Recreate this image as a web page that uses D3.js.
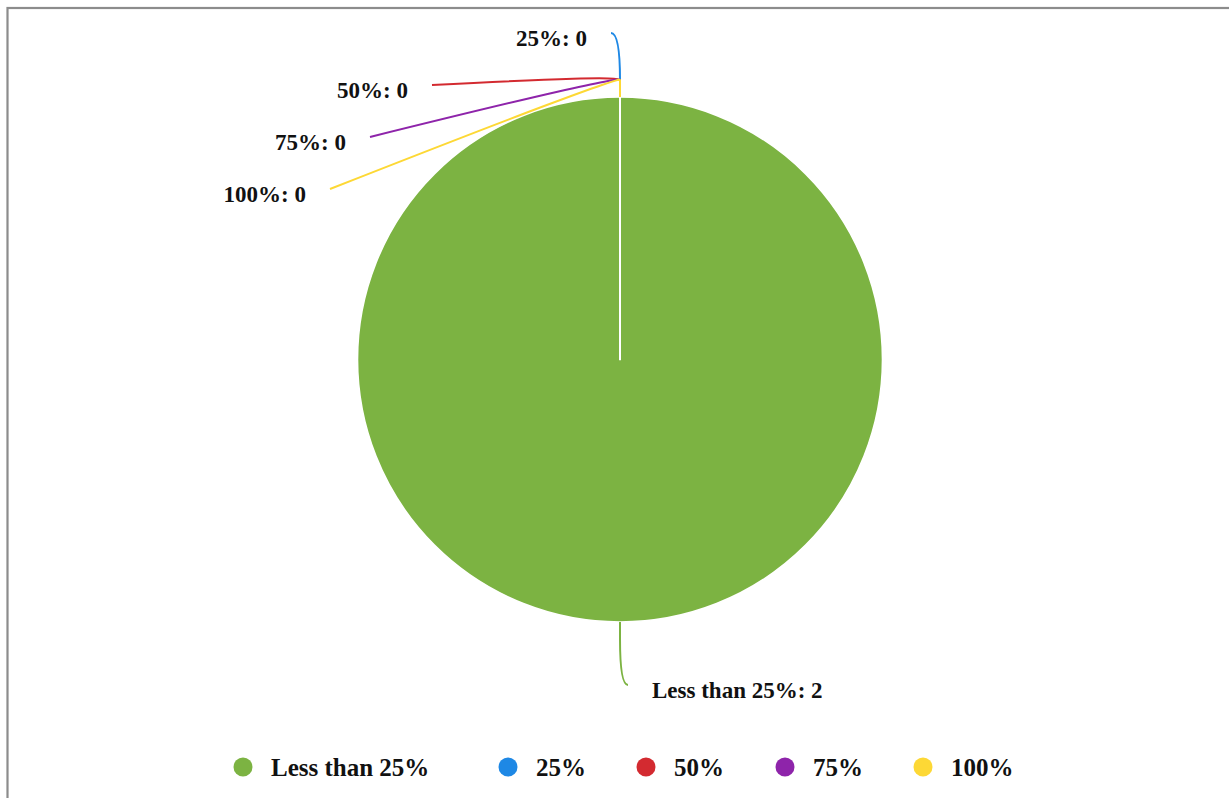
<!DOCTYPE html>
<html>
<head>
<meta charset="utf-8">
<script src="https://cdn.jsdelivr.net/npm/d3@7"></script>
<style>
  html, body { margin: 0; padding: 0; background: #fff; }
  svg { display: block; }
  text { font-family: "Liberation Serif", "Times New Roman", serif; font-weight: bold; fill: #111; }
</style>
</head>
<body>
<svg id="chart" width="1229" height="798"></svg>
<script>
// Share of completion per category
const categories = ["Less than 25%", "25%", "50%", "75%", "100%"];
const values = [2, 0, 0, 0, 0];
const colors = ["#7cb342", "#1e88e5", "#d32a30", "#8e24aa", "#fdd835"];

// Where each outside label line ends, relative to its elbow point (label layout)
const labelOffsets = [[8, 46], [-9, -47], [-188, 5], [-250, 57], [-290, 109]];
// Legend marker positions
const legendXs = [243, 508, 646, 785, 923];

const W = 1229, H = 798;
const cx = 620, cy = 359.5, R = 262.5, elbowLen = 17;

const svg = d3.select("#chart");

// frame
svg.append("rect")
  .attr("x", 7.5).attr("y", 8)
  .attr("width", W + 20).attr("height", H + 20)
  .attr("fill", "none").attr("stroke", "#8c8c8c").attr("stroke-width", 2.2);

const data = categories.map((c, i) => ({ name: c, value: values[i], color: colors[i], off: labelOffsets[i] }));

const pie = d3.pie().value(d => d.value).sort(null);
const arcs = pie(data);
const arc = d3.arc().innerRadius(0).outerRadius(R);

const g = svg.append("g").attr("transform", `translate(${cx},${cy})`);

g.selectAll("path.slice")
  .data(arcs)
  .join("path")
  .attr("class", "slice")
  .attr("d", arc)
  .attr("fill", d => d.data.color)
  .attr("stroke", "#fff")
  .attr("stroke-width", 1.6)
  .attr("stroke-linejoin", "round");

// label lines: pie edge -> elbow, then a smooth bend to the label end
function pt(angle, rad) { return [Math.sin(angle) * rad, -Math.cos(angle) * rad]; }

const labelData = arcs.map(a => {
  const mid = (a.startAngle + a.endAngle) / 2;
  const dir = [Math.sin(mid), -Math.cos(mid)];
  const p0 = pt(mid, R);
  const p1 = pt(mid, R + elbowLen);
  const p2 = [p1[0] + a.data.off[0], p1[1] + a.data.off[1]];
  const proj = (p2[0] - p1[0]) * dir[0] + (p2[1] - p1[1]) * dir[1];
  const k = Math.max(proj, 5);
  const c = [p1[0] + dir[0] * k, p1[1] + dir[1] * k];
  return { a, p0, p1, p2, c, left: a.data.off[0] < 0 };
});

g.selectAll("path.leader")
  .data(labelData)
  .join("path")
  .attr("class", "leader")
  .attr("d", d => {
    const p = d3.path();
    p.moveTo(d.p0[0], d.p0[1]);
    p.lineTo(d.p1[0], d.p1[1]);
    p.quadraticCurveTo(d.c[0], d.c[1], d.p2[0], d.p2[1]);
    return p.toString();
  })
  .attr("fill", "none")
  .attr("stroke", d => d.a.data.color)
  .attr("stroke-width", 2);

g.selectAll("text.lbl")
  .data(labelData)
  .join("text")
  .attr("class", "lbl")
  .attr("x", d => d.left ? d.p2[0] - 24 : d.p2[0] + 24)
  .attr("y", d => d.p2[1] + 13)
  .attr("text-anchor", d => d.left ? "end" : "start")
  .attr("font-size", 23)
  .text(d => `${d.a.data.name}: ${d.a.data.value}`);

// legend
const lg = svg.append("g").attr("transform", "translate(0,767)");
const items = lg.selectAll("g.item")
  .data(data)
  .join("g")
  .attr("class", "item")
  .attr("transform", (d, i) => `translate(${legendXs[i]},0)`);
items.append("circle").attr("r", 9.5).attr("fill", d => d.color);
items.append("text")
  .attr("x", 28).attr("y", 9)
  .attr("font-size", 25)
  .text(d => d.name);
</script>
</body>
</html>
